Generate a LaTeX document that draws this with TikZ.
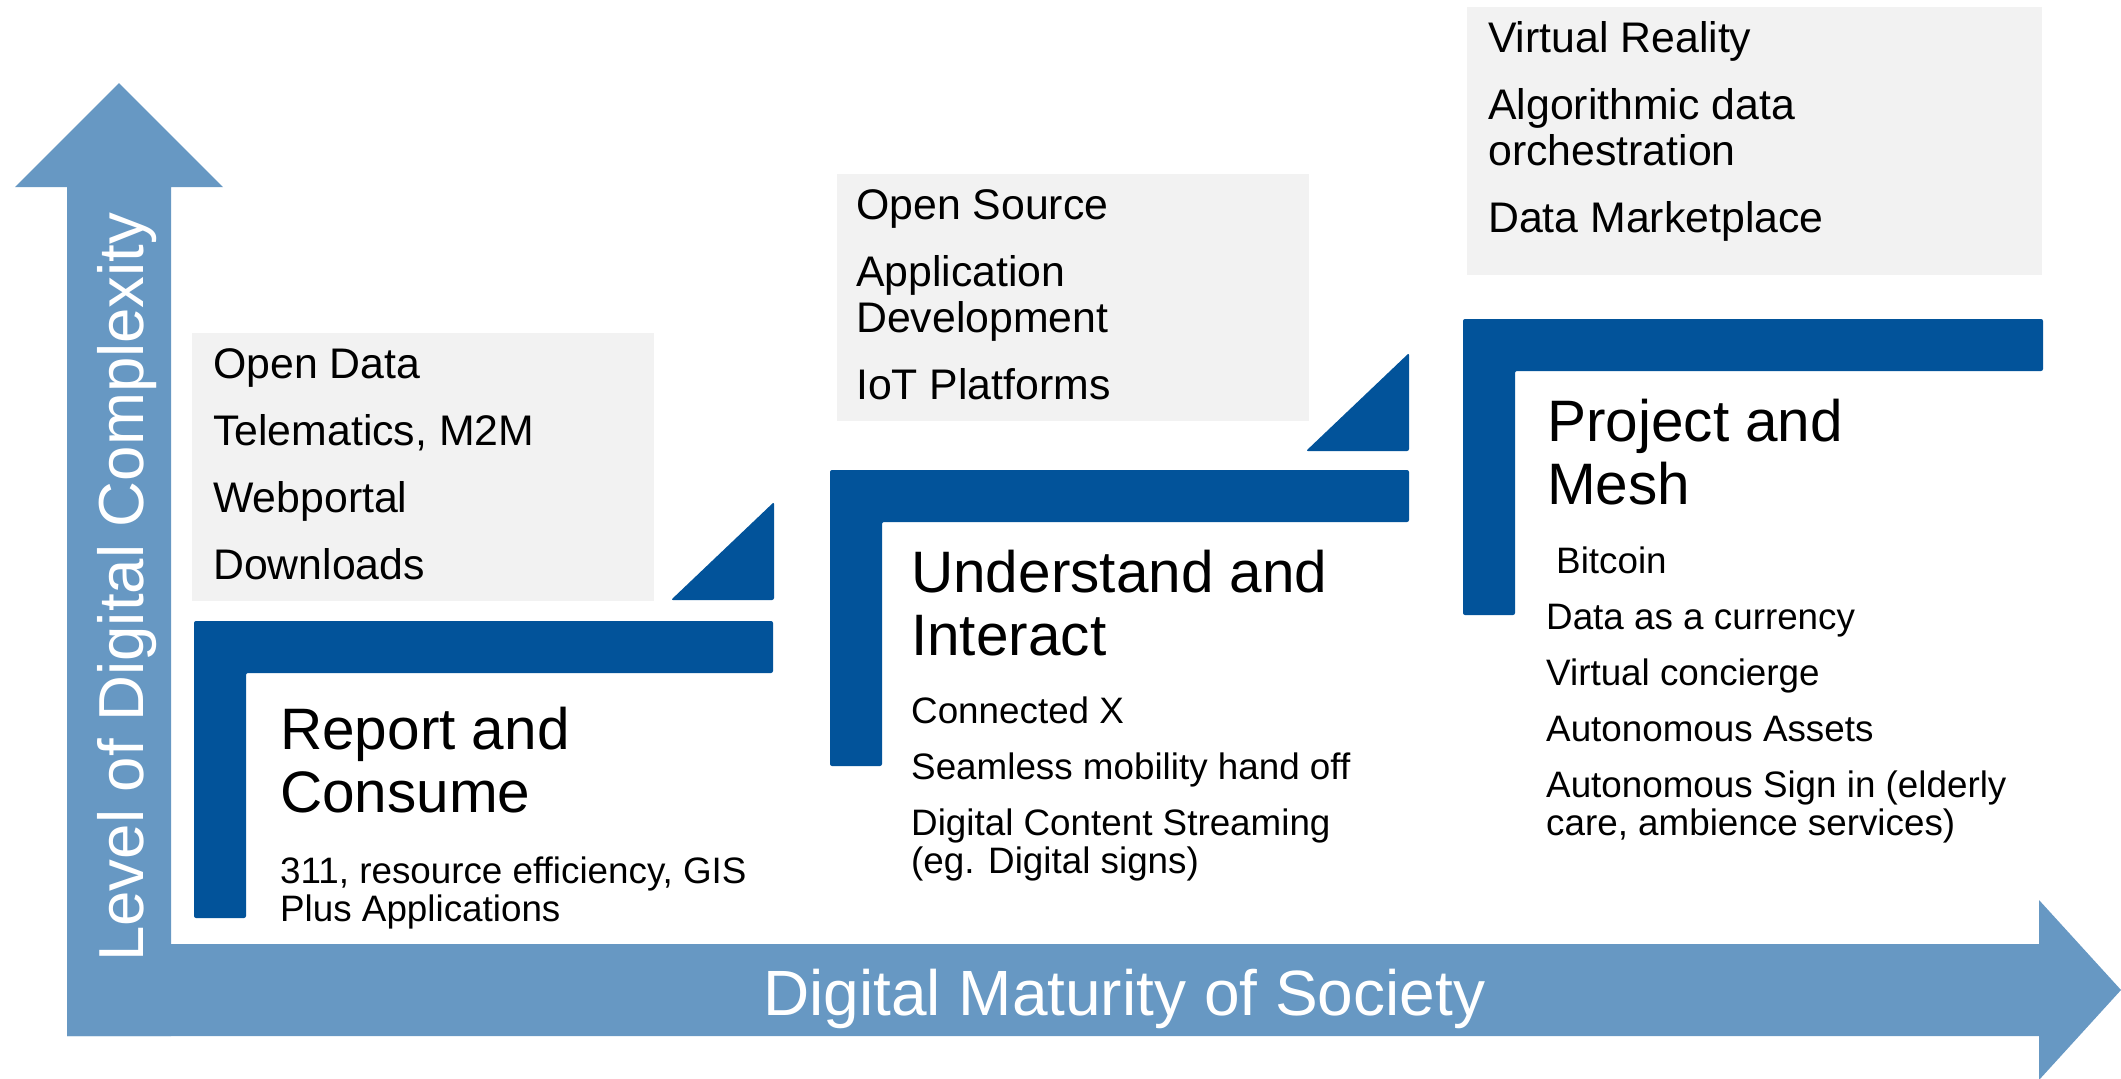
\documentclass[tikz,border=0pt]{standalone}
\usepackage{fontspec}
\setmainfont{Liberation Sans}
\definecolor{axisblue}{HTML}{6798C3}
\definecolor{stepblue}{HTML}{02539A}
\definecolor{boxgray}{HTML}{F2F2F2}
\tikzset{
  axisfill/.style={fill=axisblue},
  stepfill/.style={fill=stepblue, rounded corners=2pt},
  grayfill/.style={fill=boxgray},
  axislabel/.style={text=white, inner sep=0pt, font=\fontsize{64}{70}\selectfont},
  boxtext/.style={inner sep=0pt, align=left, anchor=base west, font=\fontsize{42.8}{46}\selectfont},
  titletext/.style={inner sep=0pt, align=left, anchor=base west, font=\fontsize{58.5}{63}\selectfont},
  itemtext/.style={inner sep=0pt, align=left, anchor=base west, font=\fontsize{36.8}{38}\selectfont},
}
\begin{document}
\begin{tikzpicture}[x=1pt,y=-1pt]
\useasboundingbox (0,0) rectangle (2121,1079);
% axes
\fill[axisfill] (67,944) -- (2039,944) -- (2039,900) -- (2121,990) -- (2039,1080) -- (2039,1036) -- (67,1036) -- cycle;
\fill[axisfill] (67,1036) -- (67,187) -- (15,187) -- (119,83) -- (223,187) -- (171,187) -- (171,1036) -- cycle;
\node[axislabel, anchor=base west] (xlabel) at (763,1015) {Digital Maturity of Society};
\node[axislabel, font=\fontsize{63.6}{70}\selectfont, rotate=90, anchor=base west] (ylabel) at (143,962) {Level of Digital Complexity};
% gray boxes
\fill[grayfill] (192,333) rectangle (654,601);
\fill[grayfill] (837,174) rectangle (1309,421);
\fill[grayfill] (1467,7) rectangle (2042,275);
% steps
\fill[stepfill] (194,621) -- (773,621) -- (773,673) -- (246,673) -- (246,918) -- (194,918) -- cycle;
\fill[stepfill] (830,470) -- (1409,470) -- (1409,522) -- (882,522) -- (882,766) -- (830,766) -- cycle;
\fill[stepfill] (1463,319) -- (2043,319) -- (2043,371) -- (1515,371) -- (1515,615) -- (1463,615) -- cycle;
% triangles
\fill[stepfill] (671,600) -- (774,600) -- (774,502) -- cycle;
\fill[stepfill] (1306,451) -- (1409,451) -- (1409,353) -- cycle;
% box texts (anchored at the baseline of the last line)
\node[boxtext] (g1) at (213,579) {Open Data\\[21pt]Telematics, M2M\\[21pt]Webportal\\[21pt]Downloads};
\node[boxtext] (g2) at (856,399) {Open Source\\[21pt]Application\\Development\\[21pt]IoT Platforms};
\node[boxtext] (g3) at (1488,232) {Virtual Reality\\[21pt]Algorithmic data\\orchestration\\[21pt]Data Marketplace};
% titles
\node[titletext] (t1) at (280,812) {Report and\\Consume};
\node[titletext] (t2) at (911,655) {Understand and\\Interact};
\node[titletext] (t3) at (1547,504) {Project and\\Mesh};
% items
\node[itemtext] (i1) at (280,921) {311, resource efficiency, GIS\\Plus Applications};
\node[itemtext] (i2) at (911,873) {Connected X\\[18pt]Seamless mobility hand off\\[18pt]Digital Content Streaming\\(eg. Digital signs)};
\node[itemtext] (i3a) at (1556,573) {Bitcoin};
\node[itemtext] (i3) at (1546,835) {Data as a currency\\[18pt]Virtual concierge\\[18pt]Autonomous Assets\\[18pt]Autonomous Sign in (elderly\\care, ambience services)};
\end{tikzpicture}
\end{document}
